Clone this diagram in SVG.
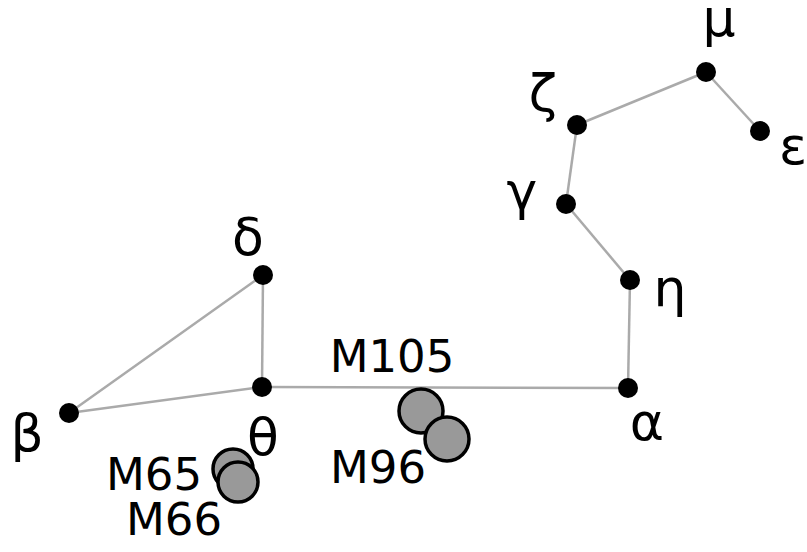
<svg xmlns="http://www.w3.org/2000/svg" width="807" height="552" viewBox="0 0 807 552">
<style>
.l{stroke:#aaa;stroke-width:2.5;fill:none}
.s{fill:#000}
.g{fill:#999;stroke:#000;stroke-width:3.5}
text{font-family:"DejaVu Sans",sans-serif;font-size:45px;fill:#000;text-anchor:middle}
text.k{font-size:52px}
</style>
<rect width="807" height="552" fill="#fff"/>
<g id="connectors">
<line class="l" x1="706" y1="72" x2="577" y2="125"/>
<line class="l" x1="706" y1="72" x2="760" y2="131"/>
<line class="l" x1="577" y1="125" x2="566" y2="204"/>
<line class="l" x1="566" y1="204" x2="630" y2="280"/>
<line class="l" x1="630" y1="280" x2="628" y2="388"/>
<line class="l" x1="628" y1="388" x2="262" y2="387"/>
<line class="l" x1="262" y1="387" x2="263" y2="275"/>
<line class="l" x1="263" y1="275" x2="69" y2="413"/>
<line class="l" x1="69" y1="413" x2="262" y2="387"/>
</g>
<g id="mu"><circle class="s" cx="706" cy="72" r="10"/><text class="k" x="719" y="36">μ</text></g>
<g id="zeta"><circle class="s" cx="577" cy="125" r="10"/><text class="k" x="543" y="111">ζ</text></g>
<g id="epsilon"><circle class="s" cx="760" cy="131" r="10"/><text class="k" x="793" y="164">ε</text></g>
<g id="gamma"><circle class="s" cx="566" cy="204" r="10"/><text class="k" x="522" y="209">γ</text></g>
<g id="eta"><circle class="s" cx="630" cy="280" r="10"/><text class="k" x="670" y="306">η</text></g>
<g id="alpha"><circle class="s" cx="628" cy="388" r="10"/><text class="k" x="647" y="440">α</text></g>
<g id="theta"><circle class="s" cx="262" cy="387" r="10"/><text class="k" x="263" y="455">θ</text></g>
<g id="delta"><circle class="s" cx="263" cy="275" r="10"/><text class="k" x="248" y="255">δ</text></g>
<g id="beta"><circle class="s" cx="69" cy="413" r="10"/><text class="k" x="27" y="451">β</text></g>
<g id="M105"><circle class="g" cx="421" cy="411" r="22"/><text x="392" y="372">M105</text></g>
<g id="M96"><circle class="g" cx="447" cy="439" r="22"/><text x="378" y="483">M96</text></g>
<g id="M65"><circle class="g" cx="233" cy="469" r="20"/><text x="154" y="490">M65</text></g>
<g id="M66"><circle class="g" cx="238" cy="482" r="20"/><text x="174" y="535">M66</text></g>
</svg>
